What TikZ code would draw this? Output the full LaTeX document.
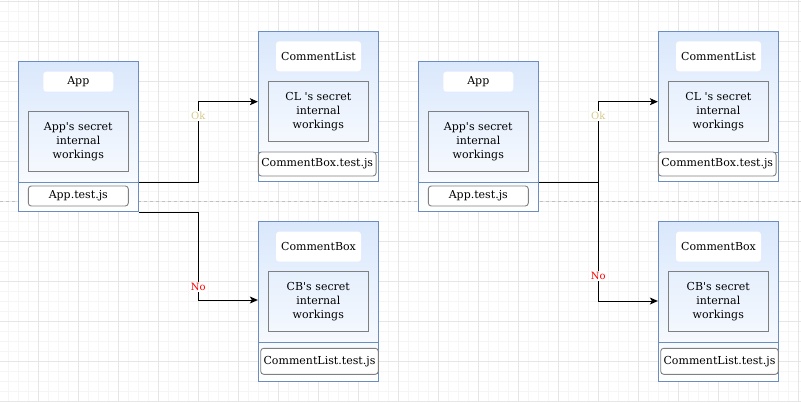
\documentclass[tikz,border=0pt]{standalone}
\usepackage{fontspec}
\setmainfont{DejaVu Serif}[Ligatures=TeXOff]
\usetikzlibrary{arrows.meta}
\definecolor{boxblue}{HTML}{DAE8FC}
\definecolor{boxline}{HTML}{6C8EBF}
\definecolor{okcol}{HTML}{D6C98A}
\definecolor{gridminor}{HTML}{F5F5F5}
\definecolor{gridmajor}{HTML}{E6E6E6}
\definecolor{pagebreak}{HTML}{C0C0C0}
\begin{document}
\begin{tikzpicture}[x=1pt, y=-1pt, font=\fontsize{11}{14}\selectfont,
    comp/.style = {draw=boxline, line width=0.9pt, top color=boxblue, bottom color=white, minimum width=120pt, inner sep=0pt},
    title/.style = {fill=white, rounded corners=3pt, minimum width=85pt, minimum height=30pt, inner sep=0pt},
    inner/.style = {draw=gray, line width=0.9pt, minimum width=100pt, minimum height=60pt, align=center, inner sep=0pt},
    test/.style = {draw=gray, line width=0.9pt, fill=white, rounded corners=3pt, inner sep=0pt},
    sep/.style = {draw=boxline, line width=0.9pt},
    arr/.style = {-{Stealth[length=8pt, width=7pt, inset=2pt]}, black, line width=0.9pt},
    lbl/.style = {fill=white, inner sep=1pt, font=\fontsize{10}{12}\selectfont}]
    \useasboundingbox (0,0) rectangle (801,402);
    \fill[white] (0,0) rectangle (801,402);

    % grid
    \foreach \x in {8.3,18.3,...,798.3} \draw[gridminor, line width=0.8pt] (\x,0) -- (\x,402);
    \foreach \y in {1.7,11.7,...,401.7} \draw[gridminor, line width=0.8pt] (0,\y) -- (801,\y);
    \foreach \x in {38.3,78.3,...,798.3} \draw[gridmajor, line width=0.8pt] (\x,0) -- (\x,402);
    \foreach \y in {1.7,41.7,...,401.7} \draw[gridmajor, line width=0.8pt] (0,\y) -- (801,\y);
    \draw[pagebreak, dashed, line width=0.8pt] (0,201) -- (801,201);

    % left
    \node[comp, minimum height=150pt] (App) at (78.3,136.7) {};
    \node[title, minimum width=70pt, minimum height=20pt] (AppTitle) at (78.3,81.7) {App};
    \node[inner] (AppInner) at (78.3,141.3) {App's secret\\internal\\workings};
    \draw[sep] ([yshift=30pt]App.south west) -- ([yshift=30pt]App.south east);
    \node[test, minimum width=100pt, minimum height=20pt] (AppTest) at (78.3,196) {App.test.js};

    \node[comp, minimum height=150pt] (CL) at (318.3,106.7) {};
    \node[title] (CLTitle) at (318.5,56.3) {CommentList};
    \node[inner] (CLInner) at (318.3,111.7) {CL 's secret\\internal\\workings};
    \draw[sep] ([yshift=30pt]CL.south west) -- ([yshift=30pt]CL.south east);
    \node[test, minimum width=117.7pt, minimum height=24pt] (CLTest) at (317.2,164) {CommentBox.test.js};

    \node[comp, minimum height=160pt] (CB) at (318.3,301.7) {};
    \node[title] (CBTitle) at (318.5,246.7) {CommentBox};
    \node[inner] (CBInner) at (318.3,301.3) {CB's secret\\internal\\workings};
    \draw[sep] ([yshift=40pt]CB.south west) -- ([yshift=40pt]CB.south east);
    \node[test, minimum width=117.6pt, minimum height=26pt] (CBTest) at (319.5,361.3) {CommentList.test.js};

    \draw[arr] ([yshift=30pt]App.south east) -- ++(60,0) |- ([yshift=5pt]CL.west);
    \draw[arr] (App.south east) -- ++(60,0) |- ([yshift=1.7pt]CB.west);
    \node[lbl, text=okcol] (Ok) at (198.3,116) {Ok};
    \node[lbl, text=red] (No) at (198.3,287) {No};

    % right
    \node[comp, minimum height=150pt] (App2) at (478.3,136.7) {};
    \node[title, minimum width=70pt, minimum height=20pt] (AppTitle2) at (478.3,81.7) {App};
    \node[inner] (AppInner2) at (478.3,141.3) {App's secret\\internal\\workings};
    \draw[sep] ([yshift=30pt]App2.south west) -- ([yshift=30pt]App2.south east);
    \node[test, minimum width=100pt, minimum height=20pt] (AppTest2) at (478.3,196) {App.test.js};

    \node[comp, minimum height=150pt] (CL2) at (718.3,106.7) {};
    \node[title] (CLTitle2) at (718.5,56.3) {CommentList};
    \node[inner] (CLInner2) at (718.3,111.7) {CL 's secret\\internal\\workings};
    \draw[sep] ([yshift=30pt]CL2.south west) -- ([yshift=30pt]CL2.south east);
    \node[test, minimum width=117.7pt, minimum height=24pt] (CLTest2) at (717.2,164) {CommentBox.test.js};

    \node[comp, minimum height=160pt] (CB2) at (718.3,301.7) {};
    \node[title] (CBTitle2) at (718.5,246.7) {CommentBox};
    \node[inner] (CBInner2) at (718.3,301.3) {CB's secret\\internal\\workings};
    \draw[sep] ([yshift=40pt]CB2.south west) -- ([yshift=40pt]CB2.south east);
    \node[test, minimum width=117.6pt, minimum height=26pt] (CBTest2) at (719.5,361.3) {CommentList.test.js};

    \draw[arr] ([yshift=30pt]App2.south east) -- ++(60,0) coordinate (fork) |- ([yshift=5pt]CL2.west);
    \draw[arr] (fork) |- ([yshift=0.7pt]CB2.west);
    \node[lbl, text=okcol] (Ok2) at (598.3,116) {Ok};
    \node[lbl, text=red] (No2) at (598.3,276) {No};
\end{tikzpicture}
\end{document}
